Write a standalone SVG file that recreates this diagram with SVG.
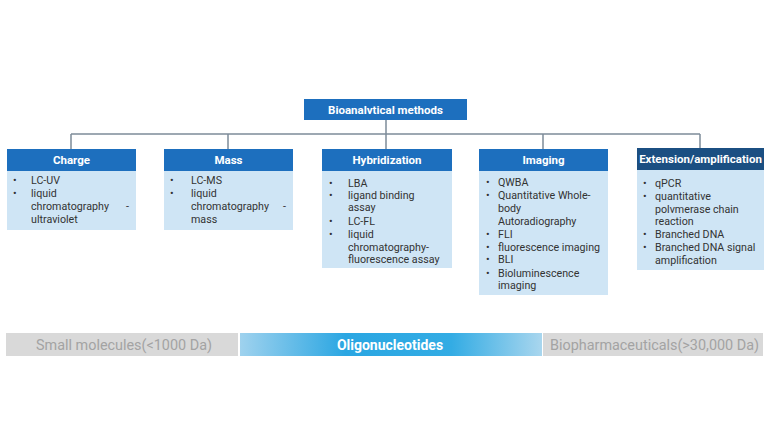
<svg xmlns="http://www.w3.org/2000/svg" width="768" height="432" viewBox="0 0 768 432">
<defs>
<style>
.hd{fill:#1d6fbe}
.hd2{fill:#1b4f82}
.bd{fill:#cfe5f5}
.ht{font-family:Roboto,"Liberation Sans",sans-serif;font-size:11.5px;font-weight:bold;fill:#ffffff;text-anchor:middle}
.it{font-family:Roboto,"Liberation Sans",sans-serif;font-size:10.7px;fill:#333333}
.ln{stroke:#7d8c99;stroke-width:1.5;fill:none}
.bar{fill:#d9d9d9}
.bt{font-family:Roboto,"Liberation Sans",sans-serif;font-size:14.4px;fill:#a3a3a3}
</style>
<linearGradient id="og" x1="0" y1="0" x2="1" y2="0">
<stop offset="0" stop-color="#9fd2ee"/>
<stop offset="0.35" stop-color="#2aa6e2"/>
<stop offset="0.7" stop-color="#33ace4"/>
<stop offset="1" stop-color="#a9d6ee"/>
</linearGradient>
</defs>
<rect width="768" height="432" fill="#ffffff"/>
<g id="connectors">
<path class="ln" d="M386 120V134M71 134H700M71 134V149M228 134V149M386 134V149M543 134V149M700 134V149"/>
</g>
<g id="root">
<rect x="304" y="99" width="163" height="21" class="hd"/>
<text x="385.5" y="113.5" class="ht">Bioanalvtical methods</text>
</g>
<g id="charge">
<rect x="7" y="171" width="129" height="59" class="bd"/>
<rect x="7" y="149" width="129" height="22" class="hd"/>
<text x="71.5" y="164" class="ht">Charge</text>
<text class="it"><tspan x="13" y="184">•</tspan><tspan x="31" y="184">LC-UV</tspan><tspan x="13" y="197">•</tspan><tspan x="31" y="197">liquid</tspan><tspan x="31" y="210">chromatography</tspan><tspan x="126" y="210">-</tspan><tspan x="31" y="223">ultraviolet</tspan></text>
</g>
<g id="mass">
<rect x="164" y="171" width="129" height="59" class="bd"/>
<rect x="164" y="149" width="129" height="22" class="hd"/>
<text x="228.5" y="164" class="ht">Mass</text>
<text class="it"><tspan x="170" y="184">•</tspan><tspan x="191" y="184">LC-MS</tspan><tspan x="170" y="197">•</tspan><tspan x="191" y="197">liquid</tspan><tspan x="191" y="210">chromatography</tspan><tspan x="283" y="210">-</tspan><tspan x="191" y="223">mass</tspan></text>
</g>
<g id="hybridization">
<rect x="322" y="171" width="130" height="97" class="bd"/>
<rect x="322" y="149" width="130" height="22" class="hd"/>
<text x="387" y="164" class="ht">Hybridization</text>
<text class="it"><tspan x="329" y="187">•</tspan><tspan x="348" y="187">LBA</tspan><tspan x="329" y="199">•</tspan><tspan x="348" y="199">ligand binding</tspan><tspan x="348" y="211">assay</tspan><tspan x="329" y="225">•</tspan><tspan x="348" y="225">LC-FL</tspan><tspan x="329" y="238">•</tspan><tspan x="348" y="238">liquid</tspan><tspan x="348" y="251">chromatography-</tspan><tspan x="348" y="263">fluorescence assay</tspan></text>
</g>
<g id="imaging">
<rect x="479" y="171" width="129" height="124" class="bd"/>
<rect x="479" y="149" width="129" height="22" class="hd"/>
<text x="543.5" y="164" class="ht">Imaging</text>
<text class="it"><tspan x="486" y="186">•</tspan><tspan x="498" y="186">QWBA</tspan><tspan x="486" y="199">•</tspan><tspan x="498" y="199">Quantitative Whole-</tspan><tspan x="498" y="212">body</tspan><tspan x="498" y="225">Autoradiography</tspan><tspan x="486" y="238">•</tspan><tspan x="498" y="238">FLI</tspan><tspan x="486" y="251">•</tspan><tspan x="498" y="251">fluorescence imaging</tspan><tspan x="486" y="263">•</tspan><tspan x="498" y="263">BLI</tspan><tspan x="486" y="277">•</tspan><tspan x="498" y="277">Bioluminescence</tspan><tspan x="498" y="289">imaging</tspan></text>
</g>
<g id="extension">
<rect x="637" y="170" width="127" height="100" class="bd"/>
<rect x="637" y="148" width="127" height="22" class="hd2"/>
<text x="700.5" y="163" class="ht">Extension/amplification</text>
<text class="it"><tspan x="643" y="187">•</tspan><tspan x="655" y="187">qPCR</tspan><tspan x="643" y="200">•</tspan><tspan x="655" y="200">quantitative</tspan><tspan x="655" y="213">polvmerase chain</tspan><tspan x="655" y="225">reaction</tspan><tspan x="643" y="238">•</tspan><tspan x="655" y="238">Branched DNA</tspan><tspan x="643" y="251">•</tspan><tspan x="655" y="251">Branched DNA  signal</tspan><tspan x="655" y="264">amplification</tspan></text>
</g>
<g id="scale">
<rect x="6" y="333" width="232" height="23" class="bar"/>
<rect x="240" y="333" width="302" height="23" fill="url(#og)"/>
<rect x="543" y="333" width="220" height="23" class="bar"/>
<text x="36" y="350" class="bt">Small molecules(&lt;1000 Da)</text>
<text x="390" y="350" font-family="Roboto,'Liberation Sans',sans-serif" font-size="14px" font-weight="bold" fill="#ffffff" text-anchor="middle">Oligonucleotides</text>
<text x="550" y="350" class="bt">Biopharmaceuticals(&gt;30,000 Da)</text>
</g>
</svg>
